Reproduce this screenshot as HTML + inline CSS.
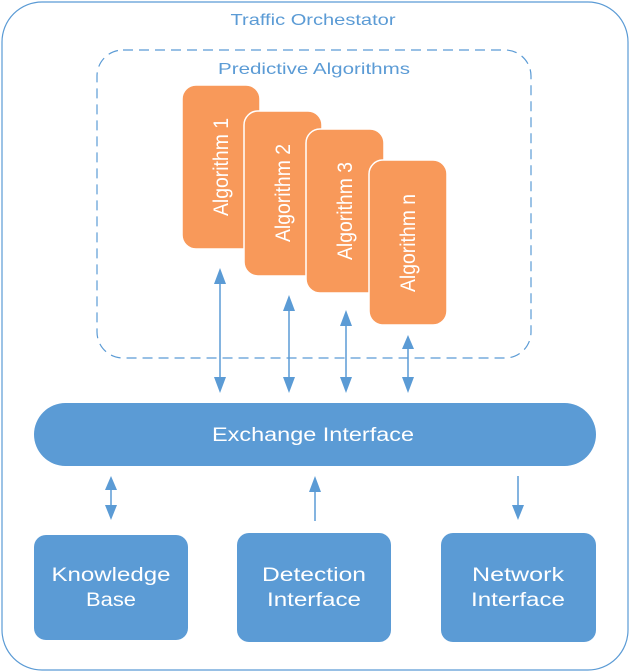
<!DOCTYPE html>
<html><head><meta charset="utf-8"><style>html,body{margin:0;padding:0;background:#fff}svg{display:block}</style></head>
<body>
<svg width="630" height="672" viewBox="0 0 630 672" xmlns="http://www.w3.org/2000/svg" font-family="Liberation Sans, sans-serif">
<rect x="2" y="2" width="626" height="668" rx="40" fill="#fff" stroke="#5b9bd5" stroke-width="1.2"/>
<text x="313" y="25" font-size="16" fill="#5b9bd5" text-anchor="middle" textLength="165" lengthAdjust="spacingAndGlyphs">Traffic Orchestator</text>
<rect x="97" y="50" width="434" height="308" rx="26" fill="none" stroke="#5b9bd5" stroke-width="1.2" stroke-dasharray="10,6"/>
<text x="314" y="74" font-size="16" fill="#5b9bd5" text-anchor="middle" textLength="192" lengthAdjust="spacingAndGlyphs">Predictive Algorithms</text>
<g fill="#f8995a" stroke="#fff" stroke-width="1.5">
<rect x="182" y="85" width="78" height="164" rx="14"/>
<rect x="244" y="111" width="78" height="165" rx="14"/>
<rect x="306" y="129" width="78" height="164" rx="14"/>
<rect x="369" y="160" width="78" height="165" rx="14"/>
</g>
<g fill="#fff" font-size="21" text-anchor="middle">
<text transform="translate(228,167) rotate(-90)" textLength="98" lengthAdjust="spacingAndGlyphs">Algorithm 1</text>
<text transform="translate(290,193) rotate(-90)" textLength="98" lengthAdjust="spacingAndGlyphs">Algorithm 2</text>
<text transform="translate(352,211) rotate(-90)" textLength="98" lengthAdjust="spacingAndGlyphs">Algorithm 3</text>
<text transform="translate(415,243) rotate(-90)" textLength="98" lengthAdjust="spacingAndGlyphs">Algorithm n</text>
</g>
<g stroke="#5b9bd5" stroke-width="1.5">
<line x1="220" y1="280" x2="220" y2="380"/>
<line x1="289" y1="305" x2="289" y2="380"/>
<line x1="346" y1="320" x2="346" y2="380"/>
<line x1="408" y1="345" x2="408" y2="380"/>
<line x1="111" y1="485" x2="111" y2="512"/>
<line x1="315" y1="485" x2="315" y2="521"/>
<line x1="518" y1="476" x2="518" y2="510"/>
</g>
<g fill="#5b9bd5">
<polygon points="220,268 214,284 226,284"/><polygon points="220,393 214,377 226,377"/>
<polygon points="289,295 283,311 295,311"/><polygon points="289,393 283,377 295,377"/>
<polygon points="346,310 340,326 352,326"/><polygon points="346,393 340,377 352,377"/>
<polygon points="408,335 402,349 414,349"/><polygon points="408,393 402,377 414,377"/>
<polygon points="111,476 105,490 117,490"/><polygon points="111,520 105,505 117,505"/>
<polygon points="315,476 309,492 321,492"/>
<polygon points="518,520 512,505 524,505"/>
<rect x="34" y="403" width="562" height="63" rx="31.5"/>
<rect x="34" y="535" width="154" height="105" rx="12"/>
<rect x="237" y="533" width="154" height="109" rx="12"/>
<rect x="441" y="533" width="155" height="109" rx="12"/>
</g>
<g fill="#fff" font-size="19" text-anchor="middle" lengthAdjust="spacingAndGlyphs">
<text x="313" y="441" textLength="202" lengthAdjust="spacingAndGlyphs">Exchange Interface</text>
<text x="111" y="581" textLength="119" lengthAdjust="spacingAndGlyphs">Knowledge</text><text x="111" y="606" textLength="50" lengthAdjust="spacingAndGlyphs">Base</text>
<text x="314" y="581" textLength="104" lengthAdjust="spacingAndGlyphs">Detection</text><text x="314" y="606" textLength="94" lengthAdjust="spacingAndGlyphs">Interface</text>
<text x="518" y="581" textLength="92" lengthAdjust="spacingAndGlyphs">Network</text><text x="518" y="606" textLength="94" lengthAdjust="spacingAndGlyphs">Interface</text>
</g>
</svg>
</body></html>
